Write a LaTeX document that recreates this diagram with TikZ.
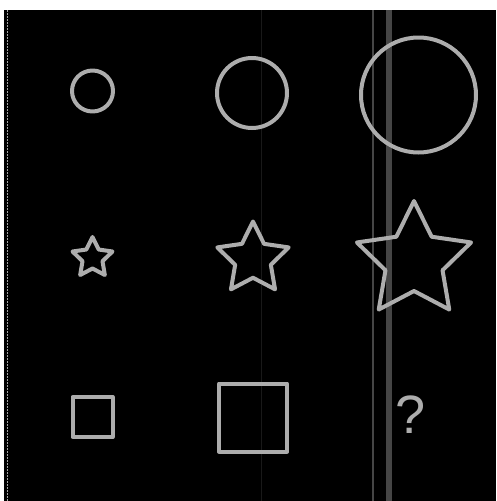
\documentclass[tikz,border=0pt]{standalone}
\usepackage{fontspec}
\usetikzlibrary{shapes.geometric}
\newfontfamily\qmarkfont{Liberation Sans}
\definecolor{shapegray}{gray}{0.68}
\definecolor{scanline}{gray}{0.27}

\tikzset{
    figline/.style={draw=shapegray, line width=4pt, inner sep=0pt, line join=round},
    ring/.style={figline, circle},
    starfig/.style={figline, star, star points=5, star point ratio=2},
    box/.style={figline, rectangle},
}

\begin{document}
\begin{tikzpicture}[x=1pt, y=-1pt]
        \useasboundingbox (0,0) rectangle (496,501);
        \fill[white] (0,0) rectangle (496,501);
        \fill[black] (4,10) rectangle (496,501);
        
        % scan marks
        \draw[gray!70, line width=1.5pt, dash pattern=on 1.5pt off 1.5pt] (7.5,10) -- (7.5,501);
        \draw[black!90, line width=0.8pt] (261,10) -- (261,501);
        \draw[scanline, line width=1.5pt] (373,10) -- (373,501);
        \draw[scanline, line width=6pt] (389,10) -- (389,501);
        
        % circles
        \node[ring, minimum size=41pt] (ringA) at (92.5,91) {};
        \node[ring, minimum size=70pt] (ringB) at (252,93) {};
        \node[ring, minimum size=115pt] (ringC) at (418.5,95) {};
        
        % stars
        \node[starfig, minimum size=42pt] (starA) at (92.5,258) {};
        \node[starfig, minimum size=75pt] (starB) at (253,259) {};
        \node[starfig, minimum size=120pt] (starC) at (414,261) {};
        
        % squares
        \node[box, minimum size=40pt] (boxA) at (92.5,417) {};
        \node[box, minimum size=68pt] (boxB) at (253,417.5) {};
        \node[inner sep=0pt, text=shapegray, font=\qmarkfont\fontsize{54}{58}\selectfont] (missing) at (410.5,415) {?};
        
    \end{tikzpicture}
\end{document}
